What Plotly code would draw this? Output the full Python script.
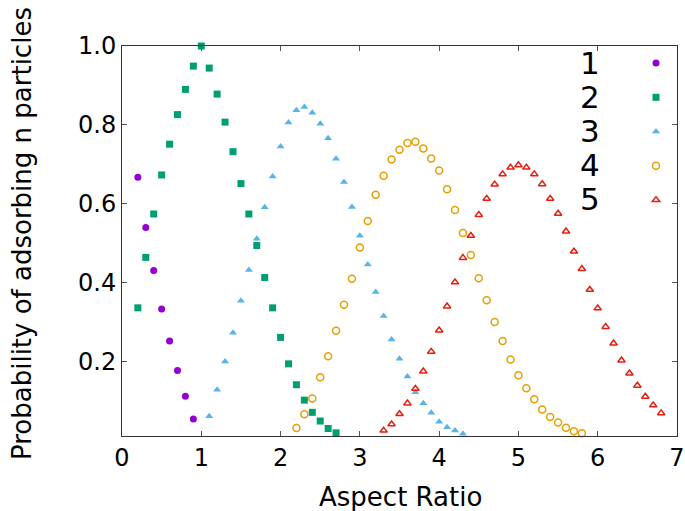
import plotly.graph_objects as go

# ---------------- data ----------------
x1 = [0.2, 0.3, 0.4, 0.5, 0.6, 0.7, 0.8, 0.9]
y1 = [0.667, 0.540, 0.431, 0.333, 0.252, 0.177, 0.112, 0.054]

x2 = [round(0.2 + 0.1 * i, 1) for i in range(26)]
y2 = [0.336, 0.464, 0.574, 0.673, 0.751, 0.826, 0.890, 0.949, 1.000, 0.944,
      0.878, 0.807, 0.732, 0.651, 0.574, 0.494, 0.413, 0.336, 0.261, 0.194,
      0.141, 0.102, 0.071, 0.049, 0.030, 0.019]

x3 = [round(1.1 + 0.1 * i, 1) for i in range(33)]
y3 = [0.061, 0.128, 0.200, 0.273, 0.354, 0.432, 0.511, 0.591, 0.669, 0.745,
      0.806, 0.837, 0.845, 0.831, 0.803, 0.766, 0.714, 0.655, 0.592, 0.519,
      0.446, 0.376, 0.315, 0.256, 0.207, 0.162, 0.122, 0.094, 0.070, 0.047,
      0.033, 0.025, 0.017]

x4 = [round(2.2 + 0.1 * i, 1) for i in range(37)]
y4 = [0.031, 0.066, 0.106, 0.160, 0.213, 0.278, 0.344, 0.410, 0.489, 0.556,
      0.623, 0.671, 0.712, 0.737, 0.754, 0.757, 0.740, 0.715, 0.684, 0.637,
      0.584, 0.526, 0.470, 0.411, 0.355, 0.300, 0.252, 0.205, 0.165, 0.132,
      0.104, 0.078, 0.059, 0.045, 0.032, 0.023, 0.018]

x5 = [round(3.3 + 0.1 * i, 1) for i in range(36)]
y5 = [0.025, 0.041, 0.067, 0.094, 0.131, 0.175, 0.225, 0.279, 0.340, 0.401,
      0.463, 0.519, 0.572, 0.613, 0.649, 0.675, 0.692, 0.698, 0.692, 0.675,
      0.650, 0.613, 0.575, 0.530, 0.479, 0.435, 0.382, 0.335, 0.288, 0.246,
      0.203, 0.170, 0.139, 0.111, 0.089, 0.069]

series_labels = ["1", "2", "3", "4", "5"]
x_ticks = [0, 1, 2, 3, 4, 5, 6, 7]
y_ticks = [0.2, 0.4, 0.6, 0.8, 1.0]
y_tick_text = ["0.2", "0.4", "0.6", "0.8", "1.0"]

# ---------------- layout geometry ----------------
W, H = 685, 511
L, R, T, B = 122, 8, 46, 75
PW, PH = W - L - R, H - T - B

def px_x(p):
    return (p - L) / PW

def px_y(p):
    return (H - B - p) / PH

FONT = "DejaVu Sans"

styles = [
    dict(symbol="circle", size=7, color="#9400D3", line=dict(width=0)),
    dict(symbol="square", size=7, color="#009E73", line=dict(width=0)),
    dict(symbol="triangle-up", size=7, color="#56B4E9", line=dict(width=0)),
    dict(symbol="circle-open", size=7, color="#E69F00", line=dict(width=1.5, color="#E69F00")),
    dict(symbol="triangle-up-open", size=6.5, color="#E51E10", line=dict(width=1.5, color="#E51E10")),
]

xs = [x1, x2, x3, x4, x5]
ys = [y1, y2, y3, y4, y5]

fig = go.Figure()
for xv, yv, st, lab in zip(xs, ys, styles, series_labels):
    fig.add_trace(go.Scatter(x=xv, y=yv, mode="markers", name="",
                             marker=st, cliponaxis=False))

axis_common = dict(
    showgrid=False, zeroline=False, showline=True, linecolor="#333333",
    linewidth=1, mirror="allticks", ticks="inside", ticklen=5, tickwidth=1,
    tickcolor="#555555", tickfont=dict(family=FONT, size=24, color="black"),
)

fig.update_layout(
    width=W, height=H,
    margin=dict(l=L, r=R, t=T, b=B, pad=0, autoexpand=False),
    paper_bgcolor="white", plot_bgcolor="white",
    font=dict(family=FONT, color="black"),
    xaxis=dict(range=[0, 7], tickvals=x_ticks, **axis_common),
    yaxis=dict(range=[0.011, 1.0], tickvals=y_ticks, ticktext=y_tick_text, **axis_common),
    showlegend=True,
    legend=dict(x=px_x(636), y=px_y(41), xanchor="left", yanchor="top",
                bgcolor="rgba(0,0,0,0)", borderwidth=0, tracegroupgap=0,
                font=dict(family=FONT, size=24), itemclick=False),
)

# legend labels (text left of the marker, as in the reference)
for i, lab in enumerate(series_labels):
    fig.add_annotation(x=px_x(602), y=px_y(63 + 34 * i), xref="paper", yref="paper",
                       text=lab, showarrow=False, xanchor="right", yanchor="middle",
                       font=dict(family=FONT, size=31, color="black"))

# axis titles
fig.add_annotation(x=px_x(400), y=px_y(497), xref="paper", yref="paper",
                   text="Aspect Ratio", showarrow=False, xanchor="center", yanchor="middle",
                   font=dict(family=FONT, size=26, color="black"))
fig.add_annotation(x=px_x(22), y=px_y(234), xref="paper", yref="paper",
                   text="Probability of adsorbing n particles", textangle=-90,
                   showarrow=False, xanchor="center", yanchor="middle",
                   font=dict(family=FONT, size=26, color="black"))

fig.write_html("out.html")
